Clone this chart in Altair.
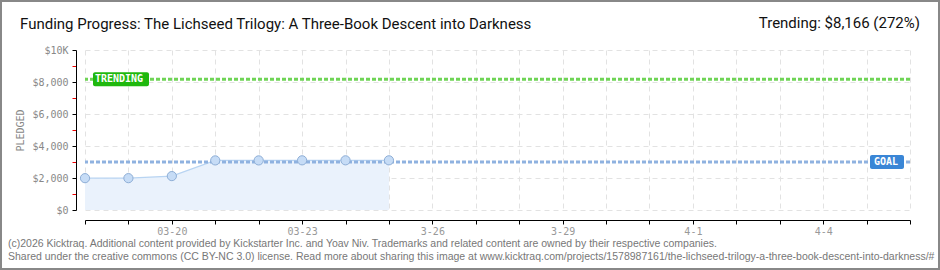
import altair as alt
import pandas as pd

# ---- data ----
dates = ["2026-03-18", "2026-03-19", "2026-03-20", "2026-03-21",
         "2026-03-22", "2026-03-23", "2026-03-24", "2026-03-25"]
pledged = [1990, 1990, 2120, 3100, 3100, 3105, 3105, 3105]
goal_value = 3000
trending_value = 8166
trending_pct = 272
axis_days = ["2026-03-18", "2026-03-19", "2026-03-20", "2026-03-21", "2026-03-22",
             "2026-03-23", "2026-03-24", "2026-03-25", "2026-03-26", "2026-03-27",
             "2026-03-28", "2026-03-29", "2026-03-30", "2026-03-31", "2026-04-01",
             "2026-04-02", "2026-04-03", "2026-04-04", "2026-04-05", "2026-04-06"]
label_days = ["2026-03-20", "2026-03-23", "2026-03-26", "2026-03-29", "2026-04-01", "2026-04-04"]
label_texts = ["03-20", "03-23", "3-26", "3-29", "4-1", "4-4"]
y_ticks = [0, 1000, 2000, 3000, 4000, 5000, 6000, 7000, 8000, 9000, 10000]

title_text = "Funding Progress: The Lichseed Trilogy: A Three-Book Descent into Darkness"
footer_1 = ("(c)2026 Kicktraq. Additional content provided by Kickstarter Inc. and Yoav Niv. "
            "Trademarks and related content are owned by their respective companies.")
footer_2 = ("Shared under the creative commons (CC BY-NC 3.0) license. Read more about sharing this "
            "image at www.kicktraq.com/projects/1578987161/the-lichseed-trilogy-a-three-book-descent-into-darkness/#")

W, H = 825, 160
TITLE_FONT = "Roboto"
MONO = "DejaVu Sans Mono"


def dt(s):
    y, m, d = (int(p) for p in s.split("-"))
    return alt.DateTime(year=y, month=m, date=d, utc=True)


df = pd.DataFrame({"date": dates, "pledged": pledged})

label_expr = " : ".join(
    f"utcFormat(datum.value, '%Y-%m-%d') == '{d}' ? '{t}'" for d, t in zip(label_days, label_texts)
) + " : ''"

x_axis = alt.Axis(
    values=[dt(d) for d in axis_days], labelExpr=label_expr, title=None,
    offset=10, domainColor="#000", tickColor="#000", tickSize=4,
    labelFont=MONO, labelFontSize=10, labelColor="#999", labelPadding=2,
    grid=True, gridColor="#e2e2e2", gridDash=[5, 4], labelFlush=False,
)
y_axis = alt.Axis(
    values=y_ticks, title="PLEDGED", titleFont=MONO, titleFontSize=10, titleFontWeight="normal",
    titleColor="#888", titlePadding=6,
    offset=9, domainColor="#000", tickSize=4,
    tickColor={"condition": {"test": "datum.value % 2000 != 0", "value": "#ee0000"}, "value": "#000"},
    gridOpacity={"condition": {"test": "datum.value % 2000 != 0", "value": 0}, "value": 1},
    labelExpr="datum.value == 10000 ? '$10K' : (datum.value % 2000 != 0 ? '' : '$' + format(datum.value, ','))",
    labelFont=MONO, labelFontSize=10, labelColor="#888", labelPadding=4,
    grid=True, gridColor="#e2e2e2", gridDash=[5, 4],
)

X = alt.X("date:T", scale=alt.Scale(type="utc", domain=[dt(axis_days[0]), dt(axis_days[-1])]), axis=x_axis)
Y = alt.Y("pledged:Q", scale=alt.Scale(domain=[0, 10000], nice=False), axis=y_axis)

base = alt.Chart(df).encode(x=X, y=Y)
area = base.mark_area(color="#eaf2fc", opacity=1)
line = base.mark_line(color="#b8d4f2", strokeWidth=1.2)
points = base.mark_circle(size=85, color="#c6dcf6", stroke="#8eaed6", strokeWidth=1, opacity=1)

goal_df = pd.DataFrame({"pledged": [goal_value], "label": ["GOAL"]})
trend_df = pd.DataFrame({"pledged": [trending_value], "label": ["TRENDING"]})

goal_rule = alt.Chart(goal_df).mark_rule(color="#8fb2e0", strokeWidth=3, strokeDash=[4, 2]).encode(y=Y)
trend_rule = alt.Chart(trend_df).mark_rule(color="#6fd456", strokeWidth=3, strokeDash=[4, 2]).encode(y=Y)

goal_box = alt.Chart(goal_df).mark_tick(color="#3a86d6", size=34, thickness=14, cornerRadius=2, opacity=1).encode(
    y=Y, x=alt.value(802))
goal_txt = alt.Chart(goal_df).mark_text(color="white", font=MONO, fontSize=10, fontWeight="bold").encode(
    y=Y, x=alt.value(801), text="label:N")
trend_box = alt.Chart(trend_df).mark_tick(color="#1fb80e", size=56, thickness=14, cornerRadius=2, opacity=1).encode(
    y=Y, x=alt.value(36))
trend_txt = alt.Chart(trend_df).mark_text(color="white", font=MONO, fontSize=10, fontWeight="bold").encode(
    y=Y, x=alt.value(34), text="label:N")

main_title = alt.Chart(pd.DataFrame({"t": [title_text]})).mark_text(
    align="left", baseline="alphabetic", font=TITLE_FONT, fontSize=15, color="#111").encode(
    x=alt.value(-65), y=alt.value(-21), text="t:N")

right_title = alt.Chart(pd.DataFrame({"t": [f"Trending:  ${trending_value:,} ({trending_pct}%)"]})).mark_text(
    align="right", baseline="alphabetic", font=TITLE_FONT, fontSize=15, color="#111").encode(
    x=alt.value(835), y=alt.value(-22), text="t:N")

foot1 = alt.Chart(pd.DataFrame({"t": [footer_1]})).mark_text(
    align="left", baseline="alphabetic", font="Liberation Sans", fontSize=10.5, color="#777").encode(
    x=alt.value(-77), y=alt.value(197), text="t:N")
foot2 = alt.Chart(pd.DataFrame({"t": [footer_2]})).mark_text(
    align="left", baseline="alphabetic", font="Liberation Sans", fontSize=10.5, color="#777").encode(
    x=alt.value(-77), y=alt.value(210), text="t:N")

border = alt.Chart(pd.DataFrame({"a": [0]})).mark_rect(fill=None, stroke="#888", strokeWidth=2).encode(
    x=alt.value(-84), x2=alt.value(854), y=alt.value(-49), y2=alt.value(219))

chart = alt.layer(
    area, line, goal_rule, trend_rule, points, goal_box, goal_txt, trend_box, trend_txt,
    main_title, right_title, foot1, foot2, border
).properties(
    width=W, height=H,
    autosize=alt.AutoSizeParams(type="none"),
    padding={"left": 85, "top": 50, "right": 30, "bottom": 60},
    background="white",
).configure_view(stroke=None)

chart.save("out.html", embed_options={"renderer": "svg", "actions": False})
